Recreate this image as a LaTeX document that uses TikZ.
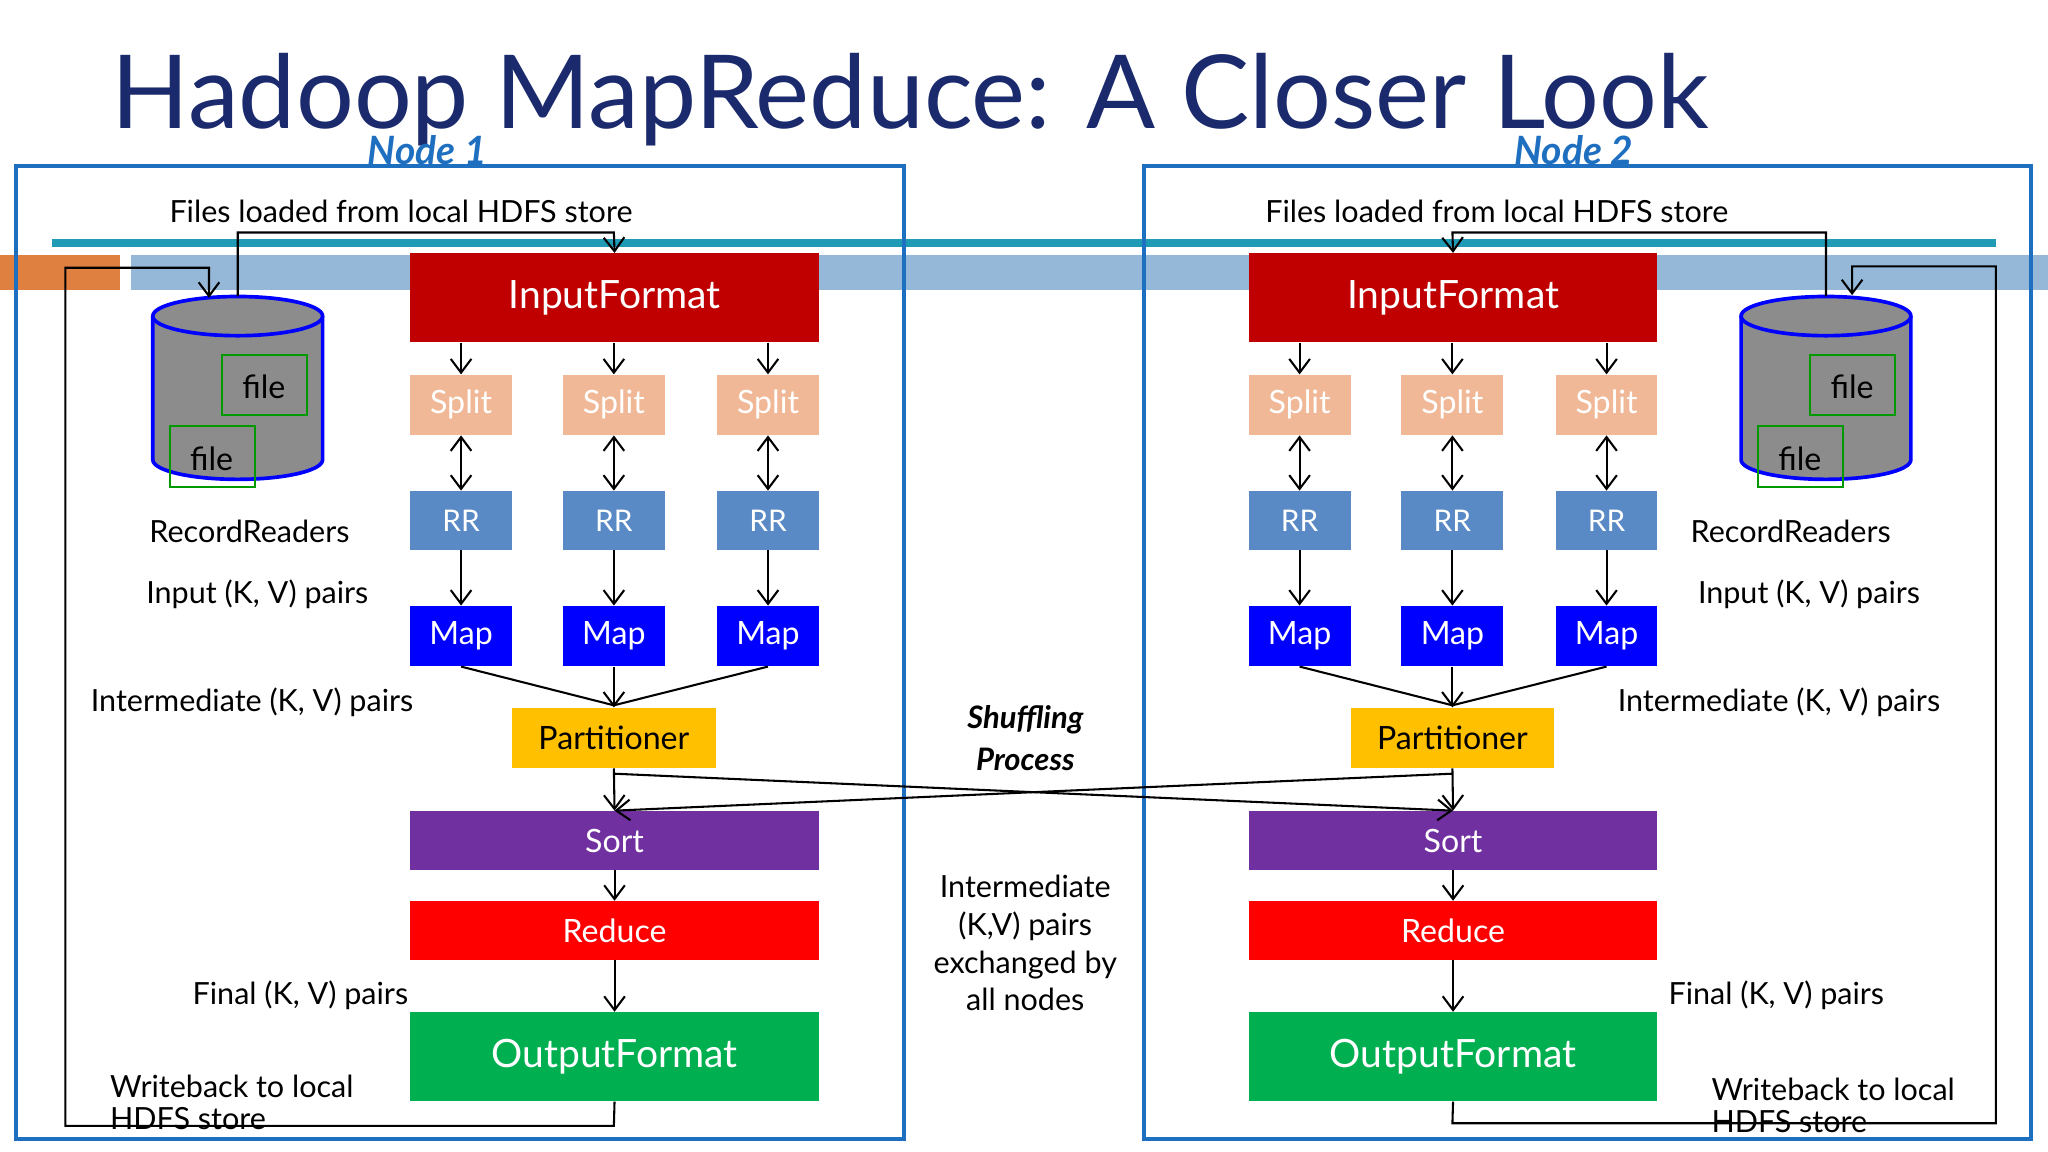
\documentclass[tikz,border=0pt]{standalone}
\usepackage{fontspec}
\setmainfont{Lato}
\usetikzlibrary{arrows.meta}
\definecolor{navy}{HTML}{1A2A6C}
\definecolor{nblue}{HTML}{1F6FC0}
\definecolor{ired}{HTML}{C00000}
\definecolor{spl}{HTML}{F0B896}
\definecolor{rrc}{HTML}{5A8AC6}
\definecolor{mapc}{HTML}{0000FF}
\definecolor{parc}{HTML}{FFC000}
\definecolor{sortc}{HTML}{7030A0}
\definecolor{redc}{HTML}{FF0000}
\definecolor{outc}{HTML}{00B050}
\definecolor{teal}{HTML}{1F9BB5}
\definecolor{lband}{HTML}{95B8D8}
\definecolor{oband}{HTML}{E08040}
\begin{document}
\begin{tikzpicture}[x=0.02cm,y=-0.02cm,
 blk/.style={draw=none,inner sep=0,anchor=north west,text=white},
 lbl/.style={font=\fontsize{13.3}{15}\selectfont,inner sep=0},
 arr/.style={-{Straight Barb[length=6pt,width=9pt]},line width=0.9pt},
 darr/.style={{Straight Barb[length=6pt,width=9pt]}-{Straight Barb[length=6pt,width=9pt]},line width=0.9pt},
 ln/.style={line width=0.9pt}]
\useasboundingbox (0,0) rectangle (1568,882);
% bands
\fill[oband] (0,195) rectangle (92,222);
\fill[lband] (100,195) rectangle (1568,222);
\fill[teal] (40,183) rectangle (1528,189);
% title
\node[anchor=base,text=navy,font=\fontsize{44.5}{50}\selectfont,inner sep=0] (title) at (697,98) {Hadoop MapReduce: A Closer Look};
% node boxes
\draw[nblue,line width=1.6pt] (12,127) rectangle (692,872);
\draw[nblue,line width=1.6pt] (876,127) rectangle (1555,872);
\node[text=nblue,font=\bfseries\itshape\fontsize{17}{18}\selectfont,inner sep=0] (n1) at (327,115) {Node 1};
\node[text=nblue,font=\bfseries\itshape\fontsize{17}{18}\selectfont,inner sep=0] (n2) at (1205,115) {Node 2};
\foreach \o/\s/\cx/\fa/\fb/\lx/\ia/\wx/\fx in {0/L/182/170/130/191/197/84/307, 642/R/1398/1386/1346/1371/1385/1310/1146}{
 \begin{scope}[shift={(\o,0)}]
 \node[blk,fill=ired,minimum width=313*0.02cm,minimum height=68*0.02cm,font=\fontsize{17}{18}\selectfont,anchor=center] (if\s) at (470.5,228) {InputFormat};
 \foreach \i/\x in {1/353,2/470,3/588}{
  \node[blk,fill=spl,minimum width=78*0.02cm,minimum height=46*0.02cm,font=\fontsize{14}{16}\selectfont,anchor=center] (sp\s\i) at (\x,310) {Split};
  \node[blk,fill=rrc,minimum width=78*0.02cm,minimum height=45*0.02cm,font=\fontsize{13}{16}\selectfont,anchor=center] (rr\s\i) at (\x,398.5) {RR};
  \node[blk,fill=mapc,minimum width=78*0.02cm,minimum height=46*0.02cm,font=\fontsize{14}{16}\selectfont,anchor=center] (mp\s\i) at (\x,487) {Map};
  \draw[arr] (if\s.south -| sp\s\i) -- (sp\s\i.north);
  \draw[darr] (sp\s\i) -- (rr\s\i);
  \draw[arr] (rr\s\i) -- (mp\s\i);
 }
 \node[blk,fill=parc,text=black,minimum width=156*0.02cm,minimum height=46*0.02cm,font=\fontsize{14}{16}\selectfont,anchor=center] (pt\s) at (470,565) {Partitioner};
 \draw[ln] (mp\s1.south) -- (470,540); \draw[ln] (mp\s3.south) -- (470,540);
 \draw[arr] (mp\s2.south) -- (pt\s.north);
 \node[blk,fill=sortc,minimum width=313*0.02cm,minimum height=45*0.02cm,font=\fontsize{14}{16}\selectfont,anchor=center] (so\s) at (470.5,643.5) {Sort};
 \node[blk,fill=redc,minimum width=313*0.02cm,minimum height=45*0.02cm,font=\fontsize{14}{16}\selectfont,anchor=center] (re\s) at (470.5,712.5) {Reduce};
 \node[blk,fill=outc,minimum width=313*0.02cm,minimum height=68*0.02cm,font=\fontsize{17}{18}\selectfont,anchor=center] (of\s) at (470.5,809) {OutputFormat};
 \draw[arr] (pt\s.south) -- (so\s.north);
 \draw[arr] (so\s) -- (re\s);
 \draw[arr] (re\s) -- (of\s);
 \end{scope}
 % cylinder
 \begin{scope}
 \fill[gray!90] (\cx-65,242) -- (\cx-65,352) arc[start angle=180,end angle=0,x radius=65,y radius=15] -- (\cx+65,242) -- cycle;
 \draw[blue,line width=1.6pt] (\cx-65,242) -- (\cx-65,352) arc[start angle=180,end angle=0,x radius=65,y radius=15] -- (\cx+65,242);
 \draw[blue,line width=1.6pt,fill=gray!90] (\cx,242) ellipse[x radius=65,y radius=15];
 \draw[green!60!black,line width=1pt] (\fa,272) rectangle (\fa+65,318);
 \node[lbl,font=\fontsize{14}{16}\selectfont] (fa\s) at (\fa+32,296) {file};
 \draw[green!60!black,line width=1pt] (\fb,326) rectangle (\fb+65,373);
 \node[lbl,font=\fontsize{14}{16}\selectfont] (fb\s) at (\fb+32,351) {file};
 \coordinate (cy\s) at (\cx,227);
 \end{scope}
 \node[lbl] at (\lx,407) {RecordReaders};
 \node[lbl] at (\ia,455) {Input (K, V) pairs};
 \node[lbl] at (\fx,162) {Files loaded from local HDFS store};
}
\node[lbl] (imL) at (193,538) {Intermediate (K, V) pairs};
\node[lbl] (imR) at (1362,538) {Intermediate (K, V) pairs};
\node[lbl] (fiL) at (230,762) {Final (K, V) pairs};
\node[lbl] (fiR) at (1360,762) {Final (K, V) pairs};
\node[lbl,anchor=west,align=left] (wbL) at (84,844) {Writeback to local\\[-1pt]HDFS store};
\node[lbl,anchor=west,align=left] (wbR) at (1310,846) {Writeback to local\\[-1pt]HDFS store};
\node[lbl,font=\bfseries\itshape\fontsize{13.5}{16}\selectfont,align=center] (sh) at (785,565) {Shuffling\\[2pt]Process};
\node[lbl,align=center,font=\fontsize{13.3}{16.5}\selectfont] (ex) at (785,722) {Intermediate\\(K,V) pairs\\exchanged by\\all nodes};
% HDFS load paths
\draw[arr] (cyL) -- (182,178) -- (470,178) -- (ifL.north);
\draw[arr] (cyR) -- (1398,178) -- (1112,178) -- (ifR.north);
% writeback
\coordinate (wtL) at (160,228);
\draw[arr] (ofL.south) -- (470,862) -- (50,862) -- (50,205) -- (160,205) -- (wtL);
\coordinate (wtR) at (1418,226);
\draw[arr] (ofR.south) -- (1112,860) -- (1528,860) -- (1528,204) -- (1418,204) -- (wtR);
% shuffle
\draw[arr] (ptL.south) ++(0,4) -- (soR.north);
\draw[arr] (ptR.south) ++(0,4) -- (soL.north);
\end{tikzpicture}
\end{document}
